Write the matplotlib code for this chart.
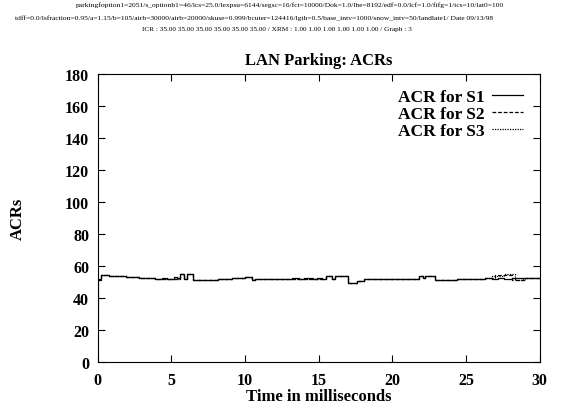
import matplotlib
matplotlib.use('Agg')
import matplotlib.pyplot as plt

# header text above the plot (simulation parameters)
header_1 = ('parkingfoption1=2051/s_optionb1=46/lcs=25.0/lexpsu=6144/segsc=16/fct=10000/Dok=1.0/'
            'lbe=8192/edf=0.0/lcf=1.0/ftfg=1/tcs=10/lat0=100')
header_2 = ('tdff=0.0/lsfraction=0.95/a=1.15/b=105/airb=30000/airb=20000/skuse=0.999/bcuter=124416/'
            'lgth=0.5/base_intv=1000/snow_intv=50/landlate1/ Date 09/13/98')
header_3 = 'ICR : 35.00 35.00 35.00 35.00 35.00 35.00 / XRM : 1.00 1.00 1.00 1.00 1.00 1.00 / Graph : 3'

# ACR step series (time in ms, ACR value)
s1_t = [0.0, 0.25, 0.75, 1.9, 2.8, 3.9, 4.4, 4.7, 5.2, 5.4, 5.6, 5.9, 6.1, 6.5,
        8.2, 9.1, 10.0, 10.5, 10.7, 13.2, 13.7, 14.0, 14.6, 14.9, 15.2, 15.5,
        15.9, 16.1, 16.4, 17.0, 17.6, 18.1, 18.4, 21.8, 22.1, 22.2, 22.9, 24.4,
        26.3, 26.8, 27.2, 27.6, 28.1, 30.0]
s1_v = [52.0, 54.5, 54.0, 53.0, 52.5, 52.0, 52.6, 52.0, 53.0, 52.3, 55.0, 52.0,
        55.0, 51.0, 52.0, 52.5, 53.2, 51.0, 52.0, 52.3, 51.8, 52.4, 52.0, 52.6,
        52.0, 54.0, 52.0, 54.0, 54.0, 49.2, 50.5, 51.8, 52.0, 53.5, 52.2, 54.0,
        51.0, 52.0, 52.5, 51.8, 52.6, 52.0, 52.5, 52.5]

s2_t = [0.0, 0.25, 0.75, 1.9, 2.8, 3.9, 5.6, 5.9, 6.1, 6.5, 8.2, 9.1, 10.0,
        10.5, 10.7, 15.5, 15.9, 16.1, 17.0, 17.6, 18.1, 18.4, 21.8, 22.1, 22.2,
        22.9, 24.4, 26.3, 27.0, 28.1, 28.9, 30.0]
s2_v = [51.0, 54.5, 54.0, 53.0, 52.5, 52.0, 55.0, 52.0, 55.0, 51.0, 52.0, 52.5,
        53.2, 51.0, 52.0, 54.0, 52.0, 54.0, 49.2, 50.5, 51.8, 52.0, 53.5, 52.2,
        54.0, 51.0, 52.0, 52.5, 54.5, 51.5, 52.5, 52.5]

s3_t = [0.0, 0.05, 0.25, 0.75, 1.9, 2.8, 3.9, 5.6, 5.9, 6.1, 6.5, 8.2, 9.1,
        10.0, 10.5, 10.7, 15.5, 15.9, 16.1, 17.0, 17.6, 18.1, 18.4, 21.8, 22.1,
        22.2, 22.9, 24.4, 26.3, 26.8, 27.6, 28.3, 29.0, 30.0]
s3_v = [25.0, 52.0, 54.5, 54.0, 53.0, 52.5, 52.0, 55.0, 52.0, 55.0, 51.0, 52.0,
        52.5, 53.2, 51.0, 52.0, 54.0, 52.0, 54.0, 49.2, 50.5, 51.8, 52.0, 53.5,
        52.2, 54.0, 51.0, 52.0, 52.5, 53.5, 55.0, 51.5, 52.5, 52.5]

plt.rcParams['font.family'] = 'Liberation Serif'
plt.rcParams['font.weight'] = 'bold'

fig = plt.figure(figsize=(5.84, 4.1), dpi=100)
ax = fig.add_axes([0.167, 0.115, 0.757, 0.702])

ax.step(s1_t, s1_v, where='post', color='black', lw=0.9, ls='-', label='ACR for S1')
ax.step(s2_t, s2_v, where='post', color='black', lw=0.9, ls=(0, (3, 1.5)), label='ACR for S2')
ax.step(s3_t, s3_v, where='post', color='black', lw=0.9, ls=(0, (1, 1)), label='ACR for S3')

ax.set_xlim(0, 30)
ax.set_ylim(0, 180)
ax.set_xticks(range(0, 31, 5))
ax.set_yticks(range(0, 181, 20))
ax.tick_params(direction='in', top=True, right=True, length=5, width=0.8,
               labelsize=11.5, pad=6)
ax.tick_params(axis='x', pad=7)
for lab in ax.get_xticklabels() + ax.get_yticklabels():
    lab.set_fontweight('bold')
for sp in ax.spines.values():
    sp.set_linewidth(0.8)

ax.set_title('LAN Parking: ACRs', fontsize=12, fontweight='bold', pad=7)
ax.set_xlabel('Time in milliseconds', fontsize=12, fontweight='bold', labelpad=0)
ax.set_ylabel('ACRs', fontsize=12, fontweight='bold', labelpad=28)

leg = ax.legend(loc='upper right', bbox_to_anchor=(0.985, 0.985), frameon=False,
                markerfirst=False, fontsize=12.5, handlelength=1.75, handletextpad=0.45,
                labelspacing=0.05, borderaxespad=0.2)
for txt in leg.get_texts():
    txt.set_fontweight('bold')

fig.text(0.497, 0.993, header_1, ha='center', va='top', fontsize=5.4, fontweight='normal')
fig.text(0.026, 0.963, header_2, ha='left', va='top', fontsize=5.4, fontweight='normal')
fig.text(0.474, 0.934, header_3, ha='center', va='top', fontsize=5.2, fontweight='normal')

fig.savefig('out.png', dpi=100)
